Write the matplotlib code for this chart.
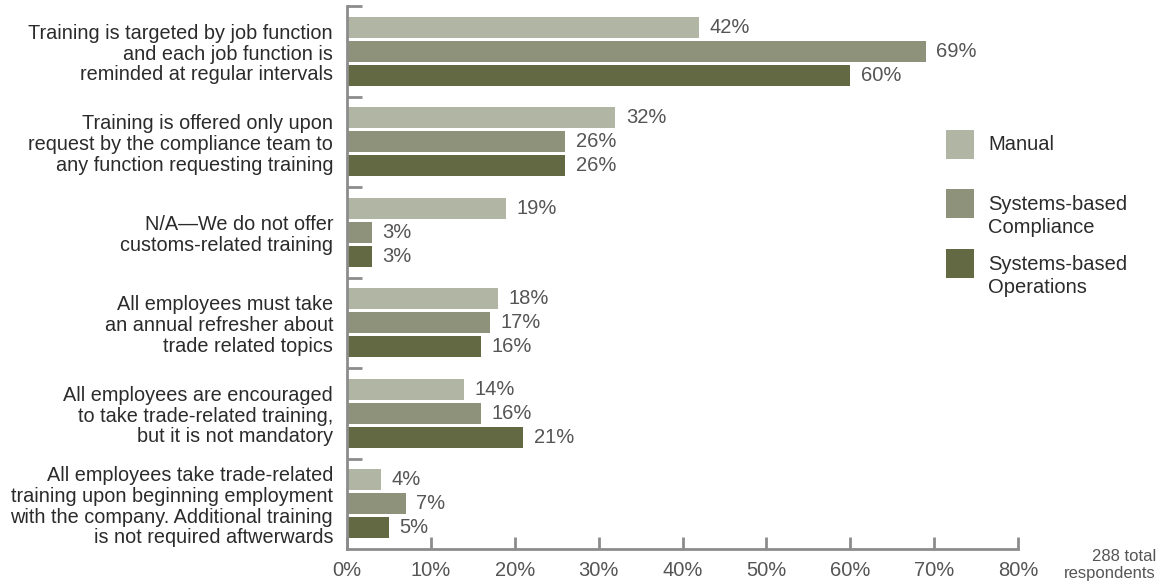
import numpy as np
import matplotlib.pyplot as plt
import matplotlib as mpl
from matplotlib.patches import Rectangle

mpl.rcParams['font.family'] = ['Liberation Sans', 'DejaVu Sans']

categories = [
    "Training is targeted by job function\nand each job function is\nreminded at regular intervals",
    "Training is offered only upon\nrequest by the compliance team to\nany function requesting training",
    "N/A\u2014We do not offer\ncustoms-related training",
    "All employees must take\nan annual refresher about\ntrade related topics",
    "All employees are encouraged\nto take trade-related training,\nbut it is not mandatory",
    "All employees take trade-related\ntraining upon beginning employment\nwith the company. Additional training\nis not required aftwerwards",
]
series_names = ["Manual", "Systems-based\nCompliance", "Systems-based\nOperations"]
manual = [42, 32, 19, 18, 14, 4]
compliance = [69, 26, 3, 17, 16, 7]
operations = [60, 26, 3, 16, 21, 5]
x_ticks = [0, 10, 20, 30, 40, 50, 60, 70, 80]

colors = ["#b1b5a3", "#8e927a", "#636a43"]
axis_grey = "#8c8c8c"
text_dark = "#2b2b2b"
text_val = "#555555"

fig = plt.figure(figsize=(11.62, 5.84), dpi=100)
ax = fig.add_axes([347 / 1162, 1 - 549 / 584, (1018 - 347) / 1162, (549 - 6) / 584])

ys = np.arange(len(categories))
offsets = [-0.265, 0.0, 0.265]
for vals, off, col in zip([manual, compliance, operations], offsets, colors):
    bars = ax.barh(ys + off, vals, height=0.237, color=col, edgecolor='none')
    for b, v in zip(bars, vals):
        ax.text(b.get_width() + 1.25, b.get_y() + b.get_height() / 2, f"{v}%",
                va='center', ha='left', fontsize=14.5, color=text_val)

ax.set_xlim(0, 80)
ax.set_ylim(len(categories) - 0.5, -0.5)

for s in ['top', 'right']:
    ax.spines[s].set_visible(False)
for s in ['left', 'bottom']:
    ax.spines[s].set_color(axis_grey)
    ax.spines[s].set_linewidth(2)

ax.set_xticks(x_ticks, [f"{t}%" for t in x_ticks])
ax.tick_params(axis='x', direction='in', length=9, width=2, color=axis_grey,
               labelsize=14.5, labelcolor=text_val, pad=9)

ax.set_yticks(ys, categories)
ax.tick_params(axis='y', which='major', length=0, labelsize=14.3,
               labelcolor=text_dark, pad=10)
for lab in ax.get_yticklabels():
    lab.set_linespacing(1.12)
# group separators on the y spine
ax.set_yticks(np.arange(-0.5, len(categories) - 1, 1.0), minor=True)
ax.tick_params(axis='y', which='minor', direction='in', length=11, width=2,
               color=axis_grey)

# legend drawn as swatches in figure pixel space
sw_tops = [130, 189, 249]
for name, col, top in zip(series_names, colors, sw_tops):
    fig.add_artist(Rectangle((946 / 1162, 1 - (top + 29) / 584), 28 / 1162, 29 / 584,
                             transform=fig.transFigure, color=col, lw=0))
    nlines = name.count("\n") + 1
    cy = top + 14 if nlines == 1 else top + 27
    fig.text(988 / 1162, 1 - cy / 584, name, ha='left', va='center', fontsize=14.5,
             color=text_dark, linespacing=1.25)

fig.text(1156 / 1162, 1 - 565 / 584, "288 total\nrespondents", ha='right', va='center',
         fontsize=12, color=text_val, linespacing=1.15)

fig.savefig("out.png", dpi=100)
